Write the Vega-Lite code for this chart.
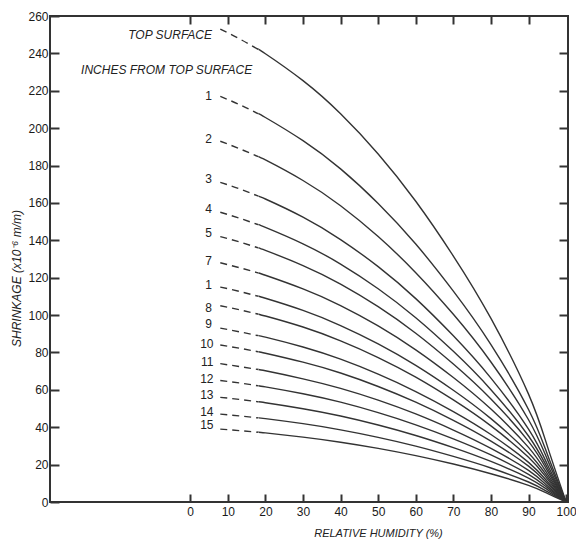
{
  "$schema": "https://vega.github.io/schema/vega-lite/v6.json",
  "autosize": {"type": "none"},
  "padding": {"left": 50, "top": 16, "right": 8, "bottom": 37},
  "width": 518,
  "height": 486,
  "background": "white",
  "config": {
    "view": {"stroke": "#333", "strokeWidth": 2},
    "axis": {"domain": false, "grid": false, "tickColor": "#333", "tickWidth": 2, "labelFont": "Liberation Sans Narrow, Liberation Sans", "labelFontSize": 12, "labelColor": "#1a1a1a", "titleFont": "Liberation Sans", "titleFontSize": 11, "titleFontStyle": "italic", "titleFontWeight": "normal", "titleColor": "#222"}
  },
  "datasets": {
    "curves": [
      {"c":"top","p":"d","x":8,"y":253},{"c":"top","p":"d","x":13,"y":247.9},{"c":"top","p":"d","x":18,"y":242.2},
      {"c":"top","p":"s","x":18,"y":242.2},{"c":"top","p":"s","x":20,"y":239.8},{"c":"top","p":"s","x":30,"y":225.4},{"c":"top","p":"s","x":40,"y":207.7},{"c":"top","p":"s","x":50,"y":186.2},{"c":"top","p":"s","x":60,"y":160.9},{"c":"top","p":"s","x":70,"y":131.6},{"c":"top","p":"s","x":80,"y":98.2},{"c":"top","p":"s","x":90,"y":57.7},{"c":"top","p":"s","x":95,"y":29.9},{"c":"top","p":"s","x":100,"y":0},
      {"c":"1a","p":"d","x":8,"y":217},{"c":"1a","p":"d","x":13,"y":212.7},{"c":"1a","p":"d","x":18,"y":207.8},
      {"c":"1a","p":"s","x":18,"y":207.8},{"c":"1a","p":"s","x":20,"y":205.7},{"c":"1a","p":"s","x":30,"y":193.3},{"c":"1a","p":"s","x":40,"y":178.2},{"c":"1a","p":"s","x":50,"y":159.7},{"c":"1a","p":"s","x":60,"y":138.0},{"c":"1a","p":"s","x":70,"y":112.8},{"c":"1a","p":"s","x":80,"y":84.2},{"c":"1a","p":"s","x":90,"y":49.5},{"c":"1a","p":"s","x":95,"y":25.6},{"c":"1a","p":"s","x":100,"y":0},
      {"c":"2","p":"d","x":8,"y":193},{"c":"2","p":"d","x":13,"y":189.1},{"c":"2","p":"d","x":18,"y":184.8},
      {"c":"2","p":"s","x":18,"y":184.8},{"c":"2","p":"s","x":20,"y":183.0},{"c":"2","p":"s","x":30,"y":172.0},{"c":"2","p":"s","x":40,"y":158.5},{"c":"2","p":"s","x":50,"y":142.0},{"c":"2","p":"s","x":60,"y":122.7},{"c":"2","p":"s","x":70,"y":100.4},{"c":"2","p":"s","x":80,"y":74.9},{"c":"2","p":"s","x":90,"y":44.0},{"c":"2","p":"s","x":95,"y":22.8},{"c":"2","p":"s","x":100,"y":0},
      {"c":"3","p":"d","x":8,"y":171},{"c":"3","p":"d","x":13,"y":167.6},{"c":"3","p":"d","x":18,"y":163.7},
      {"c":"3","p":"s","x":18,"y":163.7},{"c":"3","p":"s","x":20,"y":162.1},{"c":"3","p":"s","x":30,"y":152.4},{"c":"3","p":"s","x":40,"y":140.4},{"c":"3","p":"s","x":50,"y":125.9},{"c":"3","p":"s","x":60,"y":108.8},{"c":"3","p":"s","x":70,"y":88.9},{"c":"3","p":"s","x":80,"y":66.3},{"c":"3","p":"s","x":90,"y":39.0},{"c":"3","p":"s","x":95,"y":20.2},{"c":"3","p":"s","x":100,"y":0},
      {"c":"4","p":"d","x":8,"y":155},{"c":"4","p":"d","x":13,"y":151.9},{"c":"4","p":"d","x":18,"y":148.4},
      {"c":"4","p":"s","x":18,"y":148.4},{"c":"4","p":"s","x":20,"y":146.9},{"c":"4","p":"s","x":30,"y":138.1},{"c":"4","p":"s","x":40,"y":127.3},{"c":"4","p":"s","x":50,"y":114.1},{"c":"4","p":"s","x":60,"y":98.6},{"c":"4","p":"s","x":70,"y":80.6},{"c":"4","p":"s","x":80,"y":60.1},{"c":"4","p":"s","x":90,"y":35.3},{"c":"4","p":"s","x":95,"y":18.3},{"c":"4","p":"s","x":100,"y":0},
      {"c":"5","p":"d","x":8,"y":142},{"c":"5","p":"d","x":13,"y":139.2},{"c":"5","p":"d","x":18,"y":136.0},
      {"c":"5","p":"s","x":18,"y":136.0},{"c":"5","p":"s","x":20,"y":134.6},{"c":"5","p":"s","x":30,"y":126.5},{"c":"5","p":"s","x":40,"y":116.6},{"c":"5","p":"s","x":50,"y":104.5},{"c":"5","p":"s","x":60,"y":90.3},{"c":"5","p":"s","x":70,"y":73.8},{"c":"5","p":"s","x":80,"y":55.1},{"c":"5","p":"s","x":90,"y":32.4},{"c":"5","p":"s","x":95,"y":16.8},{"c":"5","p":"s","x":100,"y":0},
      {"c":"7","p":"d","x":8,"y":128},{"c":"7","p":"d","x":13,"y":125.4},{"c":"7","p":"d","x":18,"y":122.6},
      {"c":"7","p":"s","x":18,"y":122.6},{"c":"7","p":"s","x":20,"y":121.3},{"c":"7","p":"s","x":30,"y":114.0},{"c":"7","p":"s","x":40,"y":105.1},{"c":"7","p":"s","x":50,"y":94.2},{"c":"7","p":"s","x":60,"y":81.4},{"c":"7","p":"s","x":70,"y":66.6},{"c":"7","p":"s","x":80,"y":49.7},{"c":"7","p":"s","x":90,"y":29.2},{"c":"7","p":"s","x":95,"y":15.1},{"c":"7","p":"s","x":100,"y":0},
      {"c":"1b","p":"d","x":8,"y":115},{"c":"1b","p":"d","x":13,"y":112.7},{"c":"1b","p":"d","x":18,"y":110.1},
      {"c":"1b","p":"s","x":18,"y":110.1},{"c":"1b","p":"s","x":20,"y":109.0},{"c":"1b","p":"s","x":30,"y":102.5},{"c":"1b","p":"s","x":40,"y":94.4},{"c":"1b","p":"s","x":50,"y":84.6},{"c":"1b","p":"s","x":60,"y":73.1},{"c":"1b","p":"s","x":70,"y":59.8},{"c":"1b","p":"s","x":80,"y":44.6},{"c":"1b","p":"s","x":90,"y":26.2},{"c":"1b","p":"s","x":95,"y":13.6},{"c":"1b","p":"s","x":100,"y":0},
      {"c":"8","p":"d","x":8,"y":105},{"c":"8","p":"d","x":13,"y":102.9},{"c":"8","p":"d","x":18,"y":100.5},
      {"c":"8","p":"s","x":18,"y":100.5},{"c":"8","p":"s","x":20,"y":99.5},{"c":"8","p":"s","x":30,"y":93.6},{"c":"8","p":"s","x":40,"y":86.2},{"c":"8","p":"s","x":50,"y":77.3},{"c":"8","p":"s","x":60,"y":66.8},{"c":"8","p":"s","x":70,"y":54.6},{"c":"8","p":"s","x":80,"y":40.7},{"c":"8","p":"s","x":90,"y":23.9},{"c":"8","p":"s","x":95,"y":12.4},{"c":"8","p":"s","x":100,"y":0},
      {"c":"9","p":"d","x":8,"y":93},{"c":"9","p":"d","x":13,"y":91.1},{"c":"9","p":"d","x":18,"y":89.0},
      {"c":"9","p":"s","x":18,"y":89.0},{"c":"9","p":"s","x":20,"y":88.2},{"c":"9","p":"s","x":30,"y":82.9},{"c":"9","p":"s","x":40,"y":76.4},{"c":"9","p":"s","x":50,"y":68.4},{"c":"9","p":"s","x":60,"y":59.1},{"c":"9","p":"s","x":70,"y":48.4},{"c":"9","p":"s","x":80,"y":36.1},{"c":"9","p":"s","x":90,"y":21.2},{"c":"9","p":"s","x":95,"y":11.0},{"c":"9","p":"s","x":100,"y":0},
      {"c":"10","p":"d","x":8,"y":84},{"c":"10","p":"d","x":13,"y":82.3},{"c":"10","p":"d","x":18,"y":80.4},
      {"c":"10","p":"s","x":18,"y":80.4},{"c":"10","p":"s","x":20,"y":79.6},{"c":"10","p":"s","x":30,"y":74.8},{"c":"10","p":"s","x":40,"y":69.0},{"c":"10","p":"s","x":50,"y":61.8},{"c":"10","p":"s","x":60,"y":53.4},{"c":"10","p":"s","x":70,"y":43.7},{"c":"10","p":"s","x":80,"y":32.6},{"c":"10","p":"s","x":90,"y":19.2},{"c":"10","p":"s","x":95,"y":9.9},{"c":"10","p":"s","x":100,"y":0},
      {"c":"11","p":"d","x":8,"y":74},{"c":"11","p":"d","x":13,"y":72.5},{"c":"11","p":"d","x":18,"y":70.9},
      {"c":"11","p":"s","x":18,"y":70.9},{"c":"11","p":"s","x":20,"y":70.2},{"c":"11","p":"s","x":30,"y":65.9},{"c":"11","p":"s","x":40,"y":60.8},{"c":"11","p":"s","x":50,"y":54.5},{"c":"11","p":"s","x":60,"y":47.1},{"c":"11","p":"s","x":70,"y":38.5},{"c":"11","p":"s","x":80,"y":28.7},{"c":"11","p":"s","x":90,"y":16.9},{"c":"11","p":"s","x":95,"y":8.7},{"c":"11","p":"s","x":100,"y":0},
      {"c":"12","p":"d","x":8,"y":65},{"c":"12","p":"d","x":13,"y":63.7},{"c":"12","p":"d","x":18,"y":62.2},
      {"c":"12","p":"s","x":18,"y":62.2},{"c":"12","p":"s","x":20,"y":61.6},{"c":"12","p":"s","x":30,"y":57.9},{"c":"12","p":"s","x":40,"y":53.4},{"c":"12","p":"s","x":50,"y":47.8},{"c":"12","p":"s","x":60,"y":41.3},{"c":"12","p":"s","x":70,"y":33.8},{"c":"12","p":"s","x":80,"y":25.2},{"c":"12","p":"s","x":90,"y":14.8},{"c":"12","p":"s","x":95,"y":7.7},{"c":"12","p":"s","x":100,"y":0},
      {"c":"13","p":"d","x":8,"y":56},{"c":"13","p":"d","x":13,"y":54.9},{"c":"13","p":"d","x":18,"y":53.6},
      {"c":"13","p":"s","x":18,"y":53.6},{"c":"13","p":"s","x":20,"y":53.1},{"c":"13","p":"s","x":30,"y":49.9},{"c":"13","p":"s","x":40,"y":46.0},{"c":"13","p":"s","x":50,"y":41.2},{"c":"13","p":"s","x":60,"y":35.6},{"c":"13","p":"s","x":70,"y":29.1},{"c":"13","p":"s","x":80,"y":21.7},{"c":"13","p":"s","x":90,"y":12.8},{"c":"13","p":"s","x":95,"y":6.6},{"c":"13","p":"s","x":100,"y":0},
      {"c":"14","p":"d","x":8,"y":47},{"c":"14","p":"d","x":13,"y":46.1},{"c":"14","p":"d","x":18,"y":45.0},
      {"c":"14","p":"s","x":18,"y":45.0},{"c":"14","p":"s","x":20,"y":44.6},{"c":"14","p":"s","x":30,"y":41.9},{"c":"14","p":"s","x":40,"y":38.6},{"c":"14","p":"s","x":50,"y":34.6},{"c":"14","p":"s","x":60,"y":29.9},{"c":"14","p":"s","x":70,"y":24.4},{"c":"14","p":"s","x":80,"y":18.2},{"c":"14","p":"s","x":90,"y":10.7},{"c":"14","p":"s","x":95,"y":5.5},{"c":"14","p":"s","x":100,"y":0},
      {"c":"15","p":"d","x":8,"y":39},{"c":"15","p":"d","x":13,"y":38.2},{"c":"15","p":"d","x":18,"y":37.3},
      {"c":"15","p":"s","x":18,"y":37.3},{"c":"15","p":"s","x":20,"y":37.0},{"c":"15","p":"s","x":30,"y":34.7},{"c":"15","p":"s","x":40,"y":32.0},{"c":"15","p":"s","x":50,"y":28.7},{"c":"15","p":"s","x":60,"y":24.8},{"c":"15","p":"s","x":70,"y":20.3},{"c":"15","p":"s","x":80,"y":15.1},{"c":"15","p":"s","x":90,"y":8.9},{"c":"15","p":"s","x":95,"y":4.6},{"c":"15","p":"s","x":100,"y":0}
    ],
    "heads": [
      {"t":"TOP SURFACE","x":5.8,"y":250},
      {"t":"INCHES FROM TOP SURFACE","x":16.5,"y":231}
    ],
    "nums": [
      {"t":"1","x":5.8,"y":217},
      {"t":"2","x":5.8,"y":194},
      {"t":"3","x":5.8,"y":173},
      {"t":"4","x":5.8,"y":157},
      {"t":"5","x":5.8,"y":144},
      {"t":"7","x":5.8,"y":129},
      {"t":"1","x":5.8,"y":116},
      {"t":"8","x":5.8,"y":104},
      {"t":"9","x":5.8,"y":95},
      {"t":"10","x":6.2,"y":84.5},
      {"t":"11","x":6.2,"y":75},
      {"t":"12","x":6.2,"y":66},
      {"t":"13","x":6.2,"y":57},
      {"t":"14","x":6.2,"y":48},
      {"t":"15","x":6.2,"y":41}
    ]
  },
  "resolve": {"axis": {"x": "independent", "y": "independent"}},
  "layer": [
    {
      "data": {"name": "curves"},
      "transform": [{"filter": "datum.p == 's'"}],
      "mark": {"type": "line", "interpolate": "natural", "color": "#333", "strokeWidth": 1.4},
      "encoding": {
        "x": {"field": "x", "type": "quantitative", "scale": {"domain": [-37.3, 100.5], "nice": false, "zero": false},
          "axis": {"orient": "bottom", "values": [0,10,20,30,40,50,60,70,80,90,100], "tickSize": -8, "labelPadding": 12, "title": "RELATIVE HUMIDITY (%)", "titleX": 328, "titleY": 31, "titleBaseline": "middle", "titleAlign": "center"}},
        "y": {"field": "y", "type": "quantitative", "scale": {"domain": [0, 260], "nice": false, "zero": false},
          "axis": {"orient": "left", "values": [0,20,40,60,80,100,120,140,160,180,200,220,240,260], "tickSize": -9, "labelPadding": 11, "title": "SHRINKAGE (x10⁻⁶ m/m)", "titleFontSize": 12, "titleX": -34, "titleY": 262, "titleBaseline": "middle", "titleAlign": "center", "titleAngle": -90}},
        "detail": {"field": "c"}
      }
    },
    {
      "data": {"name": "curves"},
      "transform": [{"filter": "datum.p == 'd'"}],
      "mark": {"type": "line", "interpolate": "natural", "color": "#333", "strokeWidth": 1.4, "strokeDash": [7, 5]},
      "encoding": {
        "x": {"field": "x", "type": "quantitative", "scale": {"domain": [-37.3, 100.5], "nice": false, "zero": false},
          "axis": {"orient": "top", "values": [0,10,20,30,40,50,60,70,80,90], "tickSize": -8, "labels": false, "title": null}},
        "y": {"field": "y", "type": "quantitative", "scale": {"domain": [0, 260], "nice": false, "zero": false},
          "axis": {"orient": "right", "values": [20,40,60,80,100,120,140,160,180,200,220,240], "tickSize": -9, "labels": false, "title": null}},
        "detail": {"field": "c"}
      }
    },
    {
      "data": {"name": "heads"},
      "mark": {"type": "text", "align": "right", "baseline": "middle", "font": "Liberation Sans", "fontStyle": "italic", "fontSize": 12, "color": "#222"},
      "encoding": {
        "x": {"field": "x", "type": "quantitative", "axis": null},
        "y": {"field": "y", "type": "quantitative", "axis": null},
        "text": {"field": "t"}
      }
    },
    {
      "data": {"name": "nums"},
      "mark": {"type": "text", "align": "right", "baseline": "middle", "font": "Liberation Sans Narrow, Liberation Sans", "fontSize": 12, "color": "#222"},
      "encoding": {
        "x": {"field": "x", "type": "quantitative", "axis": null},
        "y": {"field": "y", "type": "quantitative", "axis": null},
        "text": {"field": "t"}
      }
    }
  ]
}
